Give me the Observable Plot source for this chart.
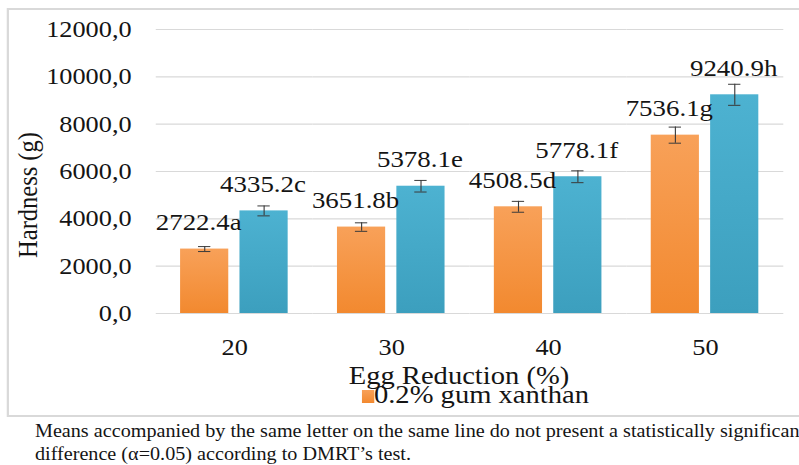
<!DOCTYPE html>
<html>
<head>
<meta charset="utf-8">
<script src="https://cdn.jsdelivr.net/npm/d3@7"></script>
<script src="https://cdn.jsdelivr.net/npm/@observablehq/plot@0.6"></script>
<style>
  html, body { margin: 0; padding: 0; background: #fff; overflow: hidden; width: 799px; height: 465px; }
  * { font-family: 'Liberation Serif', serif !important; }
  #wrap { position: absolute; left: 0; top: 0; width: 713px; height: 465px;
          transform: scaleX(1.1206); transform-origin: 0 0; color: #141414; }
  #border { position: absolute; left: 6.2px; top: 8px; width: 760px; height: 409px;
            border: 2px solid #d9d9d9; box-sizing: border-box; }
  #chart { position: absolute; left: 0; top: 0; }
  #legend-swatch { position: absolute; left: 323px; top: 390px; width: 10.5px; height: 13px;
                   background: linear-gradient(#f8a159, #f2892f); }
  #legend-text { position: absolute; left: 333.7px; top: 382px; font-size: 25.5px; line-height: 25px; white-space: nowrap; }
  #caption { position: absolute; left: 31.2px; top: 419.5px; font-size: 18px; line-height: 23px; white-space: nowrap; }
  #defs { position: absolute; width: 0; height: 0; }
</style>
</head>
<body>
<svg id="defs" width="0" height="0" aria-hidden="true">
  <defs>
    <linearGradient id="gradOrange" x1="0" y1="0" x2="0" y2="1">
      <stop offset="0" stop-color="#f8a159"/>
      <stop offset="1" stop-color="#f2892f"/>
    </linearGradient>
    <linearGradient id="gradBlue" x1="0" y1="0" x2="0" y2="1">
      <stop offset="0" stop-color="#4db2d1"/>
      <stop offset="1" stop-color="#3c9fbe"/>
    </linearGradient>
  </defs>
</svg>
<div id="wrap">
  <div id="border"></div>
  <div id="chart"></div>
  <div id="legend-swatch"></div>
  <div id="legend-text"></div>
  <div id="caption"></div>
</div>
<script>
// ---- data ----
const groups = ["20", "30", "40", "50"];
const seriesNames = ["0.2% gum xanthan", "series 2"];
const gum02Values = [2722.4, 3651.8, 4508.5, 7536.1];
const gum02Errors = [105, 180, 230, 340];
const gum02Letters = ["a", "b", "d", "g"];
const series2Values = [4335.2, 5378.1, 5778.1, 9240.9];
const series2Errors = [210, 245, 250, 445];
const series2Letters = ["c", "e", "f", "h"];
const yTicks = [0, 2000, 4000, 6000, 8000, 10000, 12000];
const xTitle = "Egg Reduction (%)";
const yTitle = "Hardness (g)";
const captionLines = [
  "Means accompanied by the same letter on the same line do not present a statistically significant",
  "difference (\u03B1=0.05) according to DMRT\u2019s test."
];

const rows = groups.flatMap((g, i) => [
  {group: g, series: seriesNames[0], value: gum02Values[i], err: gum02Errors[i], label: gum02Values[i].toFixed(1) + gum02Letters[i]},
  {group: g, series: seriesNames[1], value: series2Values[i], err: series2Errors[i], label: series2Values[i].toFixed(1) + series2Letters[i]}
]);
const rowsA = rows.filter(d => d.series === seriesNames[0]);
const rowsB = rows.filter(d => d.series === seriesNames[1]);

const ink = "#141414";
const errInk = "#3a3a3a";

const chart = Plot.plot({
  width: 713,
  height: 388,
  marginTop: 29,
  marginBottom: 75,
  marginLeft: 138.3,
  marginRight: 12.5,
  style: {fontFamily: "Liberation Serif", fontSize: "23.5px", color: ink, background: "transparent", overflow: "visible"},
  fx: {domain: groups, padding: 0, label: null, tickSize: 0, tickPadding: 25, axis: "bottom"},
  x: {domain: seriesNames, paddingInner: 0.19, paddingOuter: 0.415, axis: null},
  y: {domain: [0, 12000], ticks: yTicks, tickFormat: d => d.toFixed(1).replace(".", ","), tickSize: 0, tickPadding: 22, label: null},
  marks: [
    Plot.gridY(yTicks, {stroke: "#d9d9d9", strokeOpacity: 1, strokeWidth: 1.2}),
    Plot.barY(rowsA, {fx: "group", x: "series", y: "value", fill: "url(#gradOrange)"}),
    Plot.barY(rowsB, {fx: "group", x: "series", y: "value", fill: "url(#gradBlue)"}),
    Plot.ruleX(rows, {fx: "group", x: "series", y1: d => d.value - d.err, y2: d => d.value + d.err, stroke: errInk, strokeWidth: 1}),
    Plot.tickY(rows, {fx: "group", x: "series", y: d => d.value + d.err, stroke: errInk, strokeWidth: 1, insetLeft: 16, insetRight: 16}),
    Plot.tickY(rows, {fx: "group", x: "series", y: d => d.value - d.err, stroke: errInk, strokeWidth: 1, insetLeft: 16, insetRight: 16}),
    Plot.text(rowsA, {fx: "group", x: "series", y: "value", text: "label", lineAnchor: "bottom", dy: -19, dx: -5.4, fill: ink, fontSize: 24}),
    Plot.text(rowsB, {fx: "group", x: "series", y: "value", text: "label", lineAnchor: "bottom", dy: -19, dx: -1, fill: ink, fontSize: 24})
  ]
});

const svg = d3.select(chart);
svg.append("text")
  .attr("x", 409.6).attr("y", 384)
  .attr("text-anchor", "middle").attr("font-size", 25.5).attr("fill", ink)
  .text(xTitle);
svg.append("text")
  .attr("transform", "translate(33,195) rotate(-90)")
  .attr("text-anchor", "middle").attr("font-size", 24.5).attr("fill", ink)
  .text(yTitle);

document.getElementById("chart").appendChild(chart);
document.getElementById("legend-text").textContent = seriesNames[0];
document.getElementById("caption").innerHTML = captionLines.map(s => s.replace(/&/g, "&amp;").replace(/</g, "&lt;")).join("<br>");
</script>
</body>
</html>
